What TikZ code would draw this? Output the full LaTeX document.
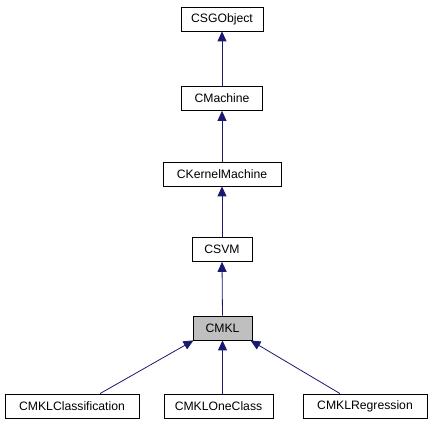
\documentclass[tikz,border=0pt]{standalone}
\usepackage{fontspec}
\setmainfont{Liberation Sans}
\usetikzlibrary{arrows.meta}
\definecolor{edgeblue}{HTML}{191970}
\definecolor{grayfill}{HTML}{BFBFBF}
\tikzset{
  cls/.style={draw=black, line width=0.8pt, fill=white, minimum height=24pt, inner xsep=4pt, inner sep=0pt, font=\fontsize{12.2}{14}\selectfont, anchor=center},
  inh/.style={draw=edgeblue, line width=0.8pt, -{Triangle[length=10pt,width=9pt,fill=edgeblue]}}
}
\begin{document}
\begin{tikzpicture}[x=1pt,y=-1pt]
\useasboundingbox (0,0) rectangle (432,427);
\node[cls, minimum width=82pt] (sgo) at (222,19) {CSGObject};
\node[cls, minimum width=81pt] (mach) at (222,98.5) {CMachine};
\node[cls, minimum width=118pt] (kern) at (222,174) {CKernelMachine};
\node[cls, minimum width=60pt] (svm) at (222,249.5) {CSVM};
\node[cls, minimum width=59pt, fill=grayfill] (mkl) at (222.5,328) {CMKL};
\node[cls, minimum width=134pt] (mklc) at (72,406) {CMKLClassification};
\node[cls, minimum width=109pt] (mklo) at (218.5,406) {CMKLOneClass};
\node[cls, minimum width=124pt] (mklr) at (365,406) {CMKLRegression};
\draw[inh] (mach.north) -- (sgo.south);
\draw[inh] (kern.north) -- (mach.south);
\draw[inh] (svm.north) -- (kern.south);
\draw[inh] (mkl.north) -- (svm.south);
\draw[inh] ([xshift=28pt]mklc.north) -- ([xshift=-29pt]mkl.south);
\draw[inh] (mklo.north -| mkl.south) -- (mkl.south);
\draw[inh] ([xshift=-25pt]mklr.north) -- ([xshift=28pt]mkl.south);
\end{tikzpicture}
\end{document}
